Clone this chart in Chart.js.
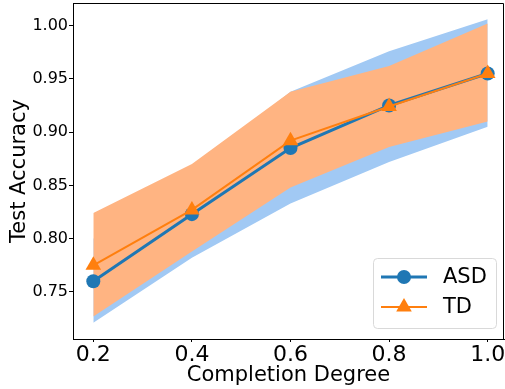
<!DOCTYPE html>
<html>
<head>
<meta charset="utf-8">
<script src="https://cdn.jsdelivr.net/npm/chart.js@4"></script>
<style>
html,body{margin:0;padding:0;background:#fff;}
#wrap{width:505px;height:389px;position:relative;}
</style>
</head>
<body>
<div id="wrap"><canvas id="c" width="505" height="389"></canvas></div>
<script>
const completion = [0.2, 0.4, 0.6, 0.8, 1.0];
const asdMean  = [0.760, 0.823, 0.885, 0.925, 0.955];
const asdLower = [0.721, 0.782, 0.833, 0.872, 0.905];
const asdUpper = [0.800, 0.865, 0.938, 0.976, 1.006];
const tdMean   = [0.775, 0.827, 0.892, 0.924, 0.955];
const tdLower  = [0.727, 0.788, 0.848, 0.886, 0.910];
const tdUpper  = [0.824, 0.870, 0.938, 0.962, 1.002];
const xTicks = [0.2, 0.4, 0.6, 0.8, 1.0];
const yTicks = [0.75, 0.80, 0.85, 0.90, 0.95, 1.00];
const seriesNames = ['ASD', 'TD'];

const BLUE = '#1f77b4', ORANGE = '#ff7f0e';
const BLUE_FILL = '#a1c9f4', ORANGE_FILL = '#ffb482';
const FONT = 'DejaVu Sans';

const pts = arr => completion.map((x, i) => ({x: x, y: arr[i]}));

const frame = {
  id: 'frame',
  afterDraw(chart) {
    const {ctx, chartArea: a} = chart;
    ctx.save();
    ctx.strokeStyle = '#000';
    ctx.lineWidth = 1;
    ctx.beginPath();
    ctx.moveTo(a.left, Math.round(a.top) + 0.5);
    ctx.lineTo(Math.round(a.right) - 0.5, Math.round(a.top) + 0.5);
    ctx.lineTo(Math.round(a.right) - 0.5, a.bottom);
    ctx.stroke();
    ctx.restore();
  }
};

const legendPlugin = {
  id: 'mplLegend',
  afterDraw(chart) {
    const ctx = chart.ctx;
    const x0 = 373.5, y0 = 258.5, w = 123, h = 70, r = 4;
    ctx.save();
    ctx.fillStyle = 'rgba(255,255,255,0.8)';
    ctx.strokeStyle = '#d9d9d9';
    ctx.lineWidth = 1;
    ctx.beginPath();
    ctx.moveTo(x0 + r, y0);
    ctx.arcTo(x0 + w, y0, x0 + w, y0 + h, r);
    ctx.arcTo(x0 + w, y0 + h, x0, y0 + h, r);
    ctx.arcTo(x0, y0 + h, x0, y0, r);
    ctx.arcTo(x0, y0, x0 + w, y0, r);
    ctx.closePath();
    ctx.fill();
    ctx.stroke();
    const rows = [
      {name: seriesNames[0], color: BLUE, lw: 3, y: 277, style: 'circle', rad: 7},
      {name: seriesNames[1], color: ORANGE, lw: 2, y: 307, style: 'triangle', rad: 9}
    ];
    rows.forEach(row => {
      ctx.strokeStyle = row.color;
      ctx.lineWidth = row.lw;
      ctx.beginPath();
      ctx.moveTo(381, row.y);
      ctx.lineTo(427, row.y);
      ctx.stroke();
      ctx.fillStyle = row.color;
      Chart.helpers.drawPoint(ctx, {pointStyle: row.style, radius: row.rad, borderWidth: 0, rotation: 0}, 404, row.y);
      ctx.fillStyle = '#000';
      ctx.font = '21px "' + FONT + '"';
      ctx.textBaseline = 'middle';
      ctx.textAlign = 'left';
      ctx.fillText(row.name, 443, row.y + 1);
    });
    ctx.restore();
  }
};

function zeroPad(s) {
  s.paddingTop = 0; s.paddingBottom = 0; s.paddingLeft = 0; s.paddingRight = 0;
}

new Chart(document.getElementById('c'), {
  type: 'line',
  data: {
    datasets: [
      {data: pts(asdLower), borderWidth: 0, pointRadius: 0, fill: false, order: 4, backgroundColor: BLUE_FILL, borderColor: 'rgba(0,0,0,0)'},
      {data: pts(asdUpper), borderWidth: 0, pointRadius: 0, fill: '-1', order: 4, backgroundColor: BLUE_FILL, borderColor: 'rgba(0,0,0,0)'},
      {data: pts(tdLower), borderWidth: 0, pointRadius: 0, fill: false, order: 3, backgroundColor: ORANGE_FILL, borderColor: 'rgba(0,0,0,0)'},
      {data: pts(tdUpper), borderWidth: 0, pointRadius: 0, fill: '-1', order: 3, backgroundColor: ORANGE_FILL, borderColor: 'rgba(0,0,0,0)'},
      {label: seriesNames[0], data: pts(asdMean), borderColor: BLUE, backgroundColor: BLUE, borderWidth: 3,
       pointStyle: 'circle', pointRadius: 7, pointBorderWidth: 0, fill: false, order: 2},
      {label: seriesNames[1], data: pts(tdMean), borderColor: ORANGE, backgroundColor: ORANGE, borderWidth: 2,
       pointStyle: 'triangle', pointRadius: 9, pointBorderWidth: 0, fill: false, order: 1}
    ]
  },
  options: {
    responsive: false,
    animation: false,
    devicePixelRatio: 1,
    layout: {autoPadding: false, padding: {top: 3, right: 1, left: 0, bottom: 0}},
    elements: {line: {tension: 0}},
    plugins: {legend: {display: false}, tooltip: {enabled: false}},
    scales: {
      x: {
        type: 'linear', min: 0.1588, max: 1.0331,
        afterBuildTicks: s => { s.ticks = xTicks.map(v => ({value: v})); },
        afterFit: s => { s.height = 50; zeroPad(s); },
        grid: {display: true, drawOnChartArea: false, drawTicks: true, tickLength: 3, tickColor: '#000', tickWidth: 1},
        border: {display: true, color: '#000', width: 1},
        ticks: {color: '#000', font: {family: FONT, size: 22}, padding: 0, maxRotation: 0,
                callback: v => Number(v).toFixed(1)},
        title: {display: true, text: 'Completion Degree', color: '#000', font: {family: FONT, size: 21}, padding: {top: 0, bottom: 1}}
      },
      y: {
        type: 'linear', min: 0.7058, max: 1.0212,
        afterBuildTicks: s => { s.ticks = yTicks.map(v => ({value: v})); },
        afterFit: s => { s.width = 73; zeroPad(s); },
        grid: {display: true, drawOnChartArea: false, drawTicks: true, tickLength: 4, tickColor: '#000', tickWidth: 1},
        border: {display: true, color: '#000', width: 1},
        ticks: {color: '#000', font: {family: FONT, size: 16, lineHeight: 0.3}, padding: 1,
                callback: v => Number(v).toFixed(2)},
        title: {display: true, text: 'Test Accuracy', color: '#000', font: {family: FONT, size: 21}, padding: {top: 7, bottom: 0}}
      }
    }
  },
  plugins: [frame, legendPlugin]
});
</script>
</body>
</html>
